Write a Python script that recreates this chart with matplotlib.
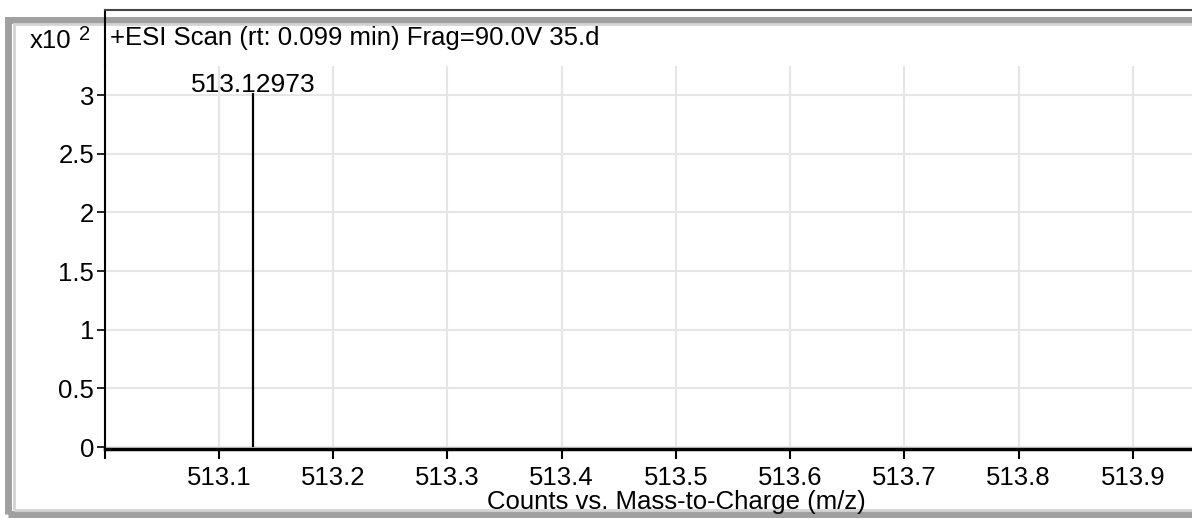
import matplotlib.pyplot as plt
from matplotlib.lines import Line2D
from matplotlib.patches import Rectangle

plt.rcParams['font.family'] = ['Liberation Sans', 'DejaVu Sans']

# peak data (counts in units of x10^2)
peak_mz = [513.12973]
peak_counts = [3.02]
peak_labels = ["513.12973"]

x_ticks = [513.0, 513.1, 513.2, 513.3, 513.4, 513.5, 513.6, 513.7, 513.8, 513.9]
x_tick_labels = ["", "513.1", "513.2", "513.3", "513.4", "513.5", "513.6", "513.7", "513.8", "513.9"]
y_ticks = [0, 0.5, 1, 1.5, 2, 2.5, 3]
y_tick_labels = ["0", "0.5", "1", "1.5", "2", "2.5", "3"]

title = "+ESI Scan (rt: 0.099 min) Frag=90.0V 35.d"
x_label = "Counts vs. Mass-to-Charge (m/z)"

W, H = 1192, 519
fig = plt.figure(figsize=(W / 100, H / 100), dpi=100)


def px(x, y):
    """pixel (from top-left) -> figure fraction"""
    return x / W, 1 - y / H


# axes placement in pixels
ax_l, ax_r, ax_t, ax_b = 104.75, 1200, 66, 449
ax = fig.add_axes([ax_l / W, 1 - ax_b / H, (ax_r - ax_l) / W, (ax_b - ax_t) / H])

ax.vlines(peak_mz, 0, peak_counts, color="black", lw=1.6)
for mz, c, lab in zip(peak_mz, peak_counts, peak_labels):
    ax.annotate(lab, (mz, c), xytext=(0, -3), textcoords="offset points",
                ha="center", va="bottom", fontsize=19)

ax.set_xlim(513.0, 513.9587)
ax.set_ylim(-0.017, 3.248)
ax.set_xticks(x_ticks)
ax.set_xticklabels(x_tick_labels, fontsize=18.5)
ax.set_yticks(y_ticks)
ax.set_yticklabels(y_tick_labels, fontsize=18.5)
ax.tick_params(axis="x", direction="out", length=7, width=1.5, pad=5.5)
ax.tick_params(axis="y", direction="out", length=6, width=1.2, pad=1.5)
ax.grid(True, color="#e6e6e6", lw=1.5)
ax.set_axisbelow(True)

for side in ["top", "right"]:
    ax.spines[side].set_visible(False)
ax.spines["bottom"].set_linewidth(2.5)
ax.spines["left"].set_linewidth(1.5)

# x label
fig.text(*px(676, 502), x_label, ha="center", va="center", fontsize=18.5)

# title strip and left spine extension
fig.add_artist(Line2D([px(ax_l, 0)[0]] * 2, [px(0, 10)[1], px(0, ax_t)[1]],
                      color="black", lw=1.5))
fig.add_artist(Line2D([px(ax_l, 0)[0], 1.0], [px(0, 10)[1]] * 2,
                      color="#444444", lw=1.5))
fig.text(*px(110, 38), title, ha="left", va="center", fontsize=18.5)
fig.text(*px(30, 41), "x10", ha="left", va="center", fontsize=18.5)
fig.text(*px(79, 35), "2", ha="left", va="center", fontsize=14.5)

# outer grey frame
fig.add_artist(Rectangle(px(8, 514), (1300 - 8) / W, (514 - 20) / H,
                         fill=False, edgecolor="#a0a0a0", lw=5))
fig.add_artist(Rectangle(px(14, 510), (1300 - 14) / W, (510 - 24) / H,
                         fill=False, edgecolor="#d4d4d4", lw=2))

fig.savefig("out.png", dpi=100)
